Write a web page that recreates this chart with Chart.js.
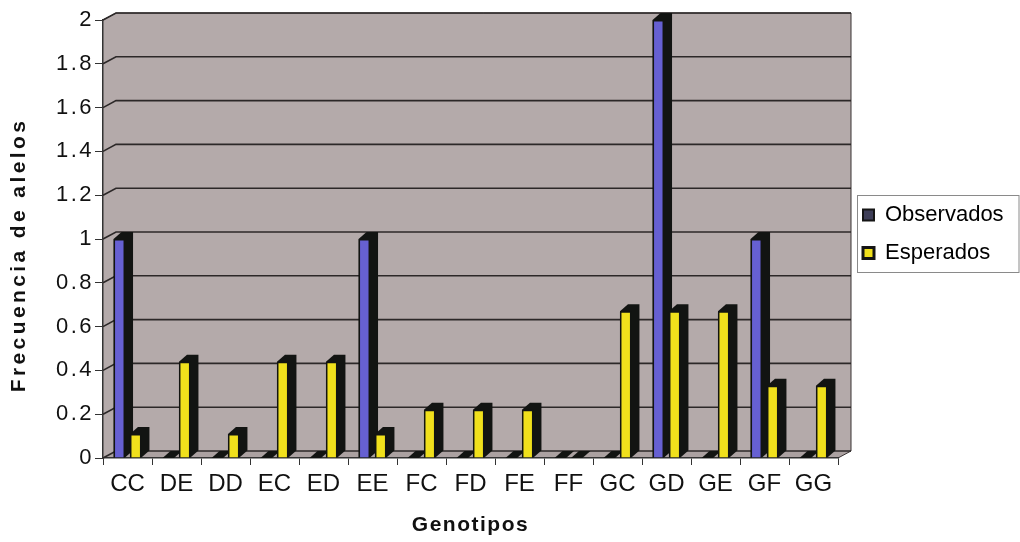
<!DOCTYPE html>
<html>
<head>
<meta charset="utf-8">
<style>
  html, body { margin: 0; padding: 0; background: #ffffff; }
  canvas { display: block; }
</style>
<script src="https://cdn.jsdelivr.net/npm/chart.js@4.4.1/dist/chart.umd.min.js"></script>
</head>
<body>
<canvas id="chart" width="1020" height="542"></canvas>
<script>
// Genotypes on the x axis
const genotipos = ['CC', 'DE', 'DD', 'EC', 'ED', 'EE', 'FC', 'FD', 'FE', 'FF', 'GC', 'GD', 'GE', 'GF', 'GG'];
// Observed and expected allele frequencies per genotype
const observados = [1, 0, 0, 0, 0, 1, 0, 0, 0, 0, 0, 2, 0, 1, 0];
const esperados  = [0.11, 0.44, 0.11, 0.44, 0.44, 0.11, 0.22, 0.22, 0.22, 0, 0.67, 0.67, 0.67, 0.33, 0.33];
// Value axis tick labels
const yTickLabels = ['0', '0.2', '0.4', '0.6', '0.8', '1', '1.2', '1.4', '1.6', '1.8', '2'];

const FONT = "'Liberation Sans', Arial, sans-serif";
const WALL = '#b4aaaa';
const FLOOR = '#aba1a1';
const EDGE = '#3a3434';
const DEPTH = '#121412';
const WALL_DX = 13, WALL_DY = -7;   // depth of the 3-D walls
const BAR_DX = 8, BAR_DY = -7;      // depth of each 3-D bar

function withSpacing(fn, spacing, dy) {
  return function (...args) {
    const c = this.ctx;
    c.save();
    c.letterSpacing = spacing + 'px';
    if (dy) c.translate(0, dy);
    fn.apply(this, args);
    c.restore();
  };
}

// Back wall, side wall, floor, gridlines and the dark sides of the bars
const threeD = {
  id: 'threeD',
  afterInit(chart) {
    const lg = chart.legend;
    const fit = lg.fit;
    lg.fit = function () { fit.call(this); this.width = 182; };
  },
  afterLayout(chart) {
    const lg = chart.legend;
    lg.left += 9; lg.right += 9; lg.top -= 47; lg.bottom -= 47;
    const y = chart.scales.y, x = chart.scales.x;
    if (!y.__spaced) {
      y.drawTitle = withSpacing(y.drawTitle, 3.4, 16);
      y.drawLabels = withSpacing(y.drawLabels, 2.5, 0);
      x.drawTitle = withSpacing(x.drawTitle, 1.5, 0);
      y.__spaced = true;
    }
  },
  beforeDraw(chart) {
    const { ctx, chartArea: a } = chart;
    ctx.save();
    // back wall
    ctx.fillStyle = WALL;
    ctx.fillRect(a.left + WALL_DX, a.top + WALL_DY, a.right - a.left, a.bottom - a.top);
    // side wall
    ctx.beginPath();
    ctx.moveTo(a.left, a.top);
    ctx.lineTo(a.left + WALL_DX, a.top + WALL_DY);
    ctx.lineTo(a.left + WALL_DX, a.bottom + WALL_DY);
    ctx.lineTo(a.left, a.bottom);
    ctx.closePath();
    ctx.fill();
    // floor
    ctx.fillStyle = FLOOR;
    ctx.beginPath();
    ctx.moveTo(a.left, a.bottom);
    ctx.lineTo(a.left + WALL_DX, a.bottom + WALL_DY);
    ctx.lineTo(a.right + WALL_DX, a.bottom + WALL_DY);
    ctx.lineTo(a.right, a.bottom);
    ctx.closePath();
    ctx.fill();
    // outline of the walls
    ctx.strokeStyle = EDGE;
    ctx.lineWidth = 1;
    ctx.beginPath();
    ctx.moveTo(a.left, a.top);
    ctx.lineTo(a.left + WALL_DX, a.top + WALL_DY);
    ctx.lineTo(a.right + WALL_DX, a.top + WALL_DY);
    ctx.lineTo(a.right + WALL_DX, a.bottom + WALL_DY);
    ctx.lineTo(a.right, a.bottom);
    ctx.stroke();
    ctx.restore();
  },
  beforeDatasetsDraw(chart) {
    const { ctx, chartArea: a } = chart;
    const ys = chart.scales.y;
    ctx.save();
    // gridlines on the side and back walls
    ctx.strokeStyle = '#2c2828';
    ctx.lineWidth = 1.6;
    ys.ticks.forEach(t => {
      const py = ys.getPixelForValue(t.value);
      ctx.beginPath();
      ctx.moveTo(a.left, py);
      ctx.lineTo(a.left + WALL_DX, py + WALL_DY);
      ctx.lineTo(a.right + WALL_DX, py + WALL_DY);
      ctx.stroke();
    });
    // dark top and side of every bar
    ctx.fillStyle = DEPTH;
    chart.data.datasets.forEach((ds, i) => {
      const meta = chart.getDatasetMeta(i);
      meta.data.forEach(bar => {
        const { x, y, base, width } = bar.getProps(['x', 'y', 'base', 'width'], true);
        const l = x - width / 2, r = x + width / 2;
        ctx.beginPath();
        ctx.moveTo(l, y);
        ctx.lineTo(l + BAR_DX, y + BAR_DY);
        ctx.lineTo(r + BAR_DX, y + BAR_DY);
        ctx.lineTo(r + BAR_DX, base + BAR_DY);
        ctx.lineTo(r, base);
        ctx.lineTo(l, base);
        ctx.closePath();
        ctx.fill();
      });
    });
    ctx.restore();
  },
  afterDraw(chart) {
    const { ctx } = chart;
    const lg = chart.legend;
    ctx.save();
    ctx.strokeStyle = '#8a8a8a';
    ctx.lineWidth = 1;
    const x0 = Math.round(lg.left + 10) + 0.5;
    ctx.strokeRect(x0, 195.5, 1019 - x0, 77);
    ctx.restore();
  }
};

new Chart(document.getElementById('chart'), {
  type: 'bar',
  data: {
    labels: genotipos,
    datasets: [
      {
        label: 'Observados',
        data: observados,
        backgroundColor: '#6660d2',
        borderColor: '#121412',
        borderWidth: 1.5,
        categoryPercentage: 0.67,
        barPercentage: 0.7
      },
      {
        label: 'Esperados',
        data: esperados,
        backgroundColor: '#f0e01c',
        borderColor: '#121412',
        borderWidth: 1.5,
        categoryPercentage: 0.67,
        barPercentage: 0.7
      }
    ]
  },
  options: {
    responsive: false,
    animation: false,
    devicePixelRatio: 1,
    layout: { padding: { top: 20, left: 0, right: 0, bottom: 0 } },
    plugins: {
      tooltip: { enabled: false },
      legend: {
        position: 'right',
        labels: {
          font: { family: FONT, size: 22 },
          color: '#111111',
          boxWidth: 11,
          boxHeight: 11,
          padding: 16,
          generateLabels: () => [
            { text: 'Observados', fillStyle: '#3e3e58', strokeStyle: '#151515', lineWidth: 2, datasetIndex: 0, hidden: false },
            { text: 'Esperados', fillStyle: '#f0e01c', strokeStyle: '#151515', lineWidth: 3, datasetIndex: 1, hidden: false }
          ]
        }
      }
    },
    scales: {
      x: {
        type: 'category',
        offset: true,
        afterFit(s) { s.height = 84; },
        grid: { offset: true, drawOnChartArea: false, drawTicks: true, tickLength: 7, color: '#333333', lineWidth: 1 },
        border: { display: true, color: '#333333', width: 1.5 },
        ticks: { font: { family: FONT, size: 24 }, color: '#111111', padding: 5, maxRotation: 0, autoSkip: false },
        title: {
          display: true,
          text: 'Genotipos',
          font: { family: FONT, size: 21, weight: 'bold' },
          color: '#111111',
          padding: { top: 0, bottom: 4 }
        }
      },
      y: {
        min: 0,
        max: 2,
        afterFit(s) { s.width = 103; },
        grid: { drawOnChartArea: false, drawTicks: true, tickLength: 8, color: '#333333', lineWidth: 1 },
        border: { display: true, color: '#333333', width: 1.5 },
        ticks: {
          stepSize: 0.2,
          font: { family: FONT, size: 22 },
          color: '#111111',
          padding: 1,
          callback: (v, i) => yTickLabels[i]
        },
        title: {
          display: true,
          text: 'Frecuencia de alelos',
          font: { family: FONT, size: 21, weight: 'bold' },
          color: '#111111',
          padding: { top: 7, bottom: 0 }
        }
      }
    }
  },
  plugins: [threeD]
});
</script>
</body>
</html>
